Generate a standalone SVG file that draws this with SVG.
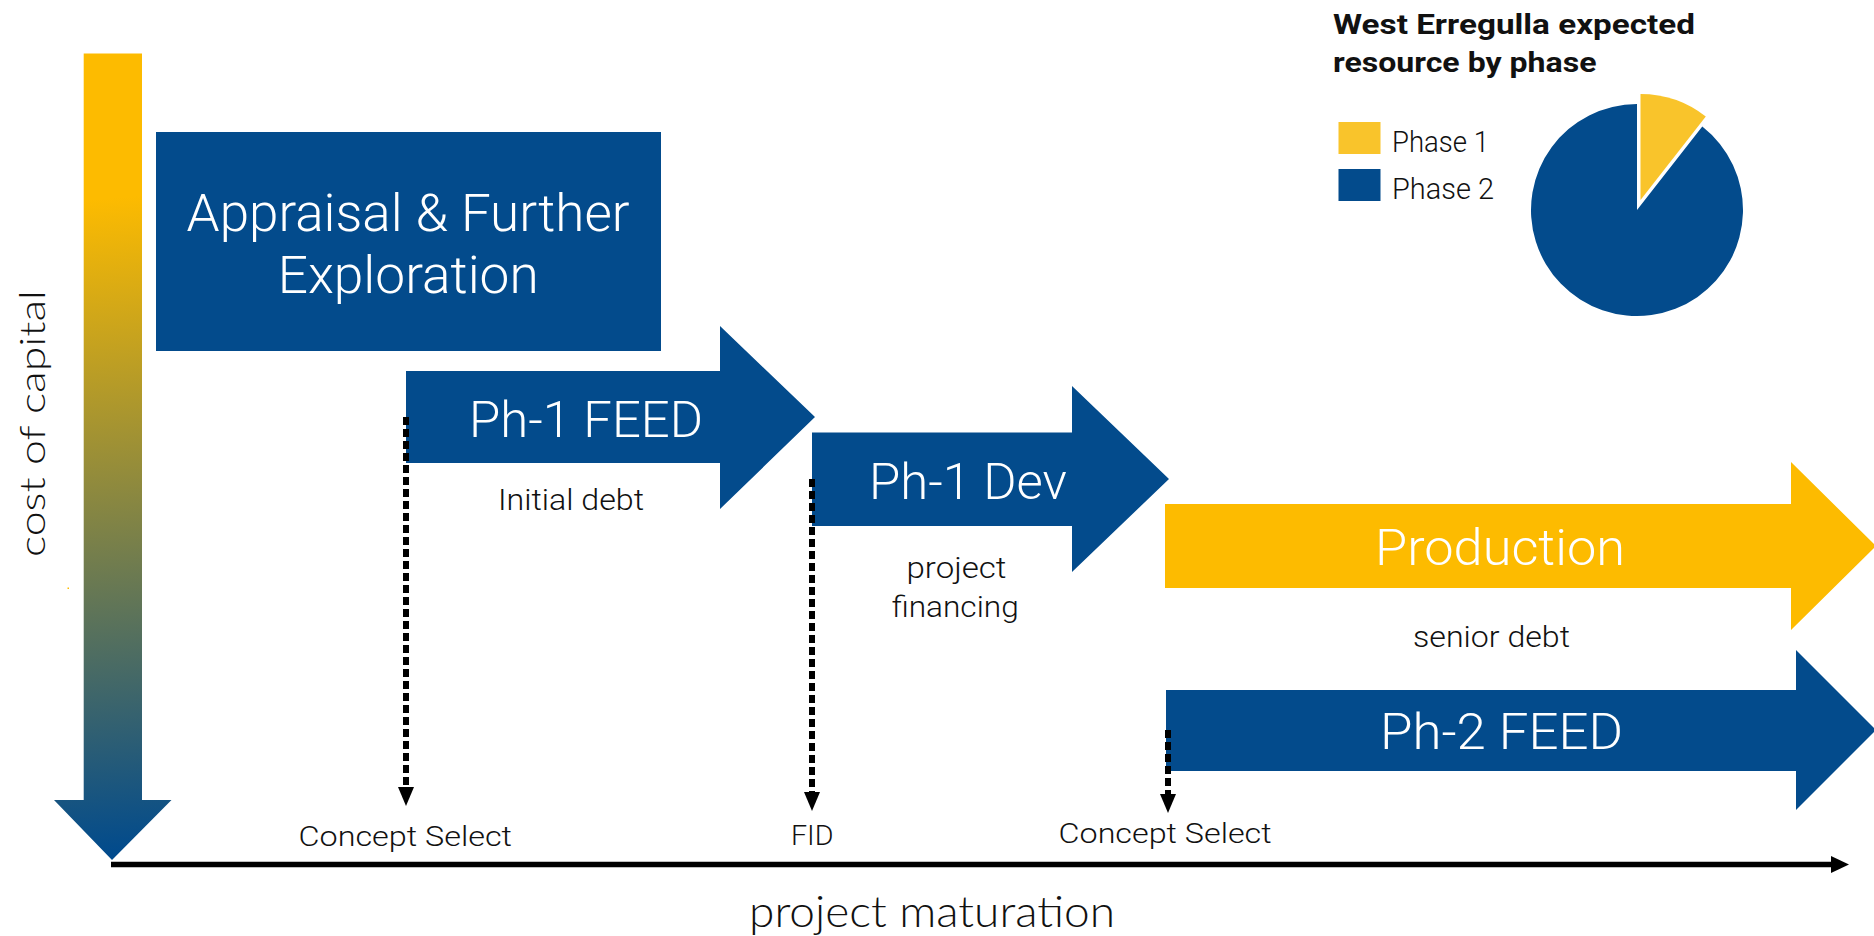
<svg xmlns="http://www.w3.org/2000/svg" width="1874" height="936" viewBox="0 0 1874 936">
  <style>
    .blue { fill: #034B8C; }
    .gold { fill: #FDBB00; }
    .pie-gold { fill: #F9C42B; }
    .t { font-family: Roboto, "Open Sans", "Liberation Sans", sans-serif; font-weight: 300; }
    .w { fill: #FFFFFF; }
    .k { fill: #111111; }
    .big { font-size: 50px; }
    .small { font-size: 29px; }
    .geo { font-family: Lato, "Open Sans", "Liberation Sans", sans-serif; font-weight: 300; fill: #111111; }
    .title { font-family: Roboto, "Liberation Sans", sans-serif; font-weight: 700; font-size: 28px; fill: #111111; }
    .dot { fill: none; stroke: #000000; stroke-width: 6; stroke-dasharray: 8 4; }
    .axis { fill: none; stroke: #000000; stroke-width: 5.5; }
  </style>
  <defs>
    <linearGradient id="costGrad" gradientUnits="userSpaceOnUse" x1="85" y1="200" x2="135" y2="855">
      <stop offset="0" stop-color="#FDBB00"/>
      <stop offset="1" stop-color="#004A8D"/>
    </linearGradient>
    <marker id="arrowSmall" viewBox="0 -8 19 16" refX="0" refY="0" markerWidth="19" markerHeight="16" markerUnits="userSpaceOnUse" orient="auto">
      <path d="M0,-8 L19,0 L0,8 Z" fill="#000000"/>
    </marker>
    <marker id="arrowAxis" viewBox="0 -8.5 18 17" refX="0" refY="0" markerWidth="18" markerHeight="17" markerUnits="userSpaceOnUse" orient="auto">
      <path d="M0,-8.5 L18,0 L0,8.5 Z" fill="#000000"/>
    </marker>
  </defs>

  <g id="cost-axis">
    <polygon points="83.7,53.5 142,53.5 142,800 171.5,800 112,860 54,800 83.7,800" fill="url(#costGrad)"/>
    <text class="geo" font-size="35" transform="translate(45,557) rotate(-90)" x="0" y="0" textLength="267" lengthAdjust="spacingAndGlyphs">cost of capital</text>
    <rect x="67.5" y="587.5" width="1.5" height="1.5" fill="#FDBB00"/>
  </g>

  <g id="appraisal">
    <rect class="blue" x="156" y="132" width="505" height="219"/>
    <text class="t w" font-size="51" x="186.6" y="231" textLength="443" lengthAdjust="spacingAndGlyphs">Appraisal &amp; Further</text>
    <text class="t w" font-size="51" x="277.7" y="293" textLength="261" lengthAdjust="spacingAndGlyphs">Exploration</text>
  </g>

  <g id="ph1-feed">
    <polygon class="blue" points="406,371 720,371 720,326 815,417 720,509 720,463 406,463"/>
    <text class="t w big" x="469" y="437" textLength="234" lengthAdjust="spacingAndGlyphs">Ph-1 FEED</text>
    <text class="t k small" x="498" y="510" textLength="146" lengthAdjust="spacingAndGlyphs">Initial debt</text>
  </g>

  <g id="ph1-dev">
    <polygon class="blue" points="812,432.5 1072,432.5 1072,386 1169,479 1072,572 1072,526 812,526"/>
    <text class="t w big" x="869" y="499" textLength="198" lengthAdjust="spacingAndGlyphs">Ph-1 Dev</text>
    <text class="t k small" x="906.5" y="578" textLength="100" lengthAdjust="spacingAndGlyphs">project</text>
    <text class="t k small" x="891.7" y="617" textLength="127" lengthAdjust="spacingAndGlyphs">financing</text>
  </g>

  <g id="production">
    <polygon class="gold" points="1165,504 1791,504 1791,462 1876,546 1791,630 1791,588 1165,588"/>
    <text class="t w big" x="1375" y="565" textLength="250" lengthAdjust="spacingAndGlyphs">Production</text>
    <text class="t k small" x="1413" y="647" textLength="157" lengthAdjust="spacingAndGlyphs">senior debt</text>
  </g>

  <g id="ph2-feed">
    <polygon class="blue" points="1166,690 1796,690 1796,650 1876,730 1796,810 1796,771 1166,771"/>
    <text class="t w big" x="1380" y="749" textLength="243" lengthAdjust="spacingAndGlyphs">Ph-2 FEED</text>
  </g>

  <g id="milestones">
    <text class="t k" font-size="28" x="298.5" y="845.5" textLength="213.5" lengthAdjust="spacingAndGlyphs">Concept Select</text>
    <text class="t k" font-size="28" x="791" y="845" textLength="42.5" lengthAdjust="spacingAndGlyphs">FID</text>
    <text class="t k" font-size="28" x="1058.6" y="843" textLength="213" lengthAdjust="spacingAndGlyphs">Concept Select</text>
  </g>

  <g id="maturation-axis">
    <text class="geo" font-size="44" x="749" y="927" textLength="366" lengthAdjust="spacingAndGlyphs">project maturation</text>
  </g>

  <g id="connectors">
    <line class="dot" x1="406" y1="417" x2="406" y2="787" marker-end="url(#arrowSmall)"/>
    <line class="dot" x1="812" y1="479" x2="812" y2="792" marker-end="url(#arrowSmall)"/>
    <line class="dot" x1="1168" y1="730" x2="1168" y2="794" marker-end="url(#arrowSmall)"/>
    <line class="axis" x1="111" y1="864.5" x2="1831" y2="864.5" marker-end="url(#arrowAxis)"/>
  </g>

  <g id="pie-chart">
    <text class="title" x="1333" y="33.7" textLength="362" lengthAdjust="spacingAndGlyphs">West Erregulla expected</text>
    <text class="title" x="1333" y="71.7" textLength="263.5" lengthAdjust="spacingAndGlyphs">resource by phase</text>
    <rect class="pie-gold" x="1338.5" y="122" width="42" height="32"/>
    <rect class="blue" x="1338.5" y="169" width="42" height="32"/>
    <text class="t k" font-size="30" x="1392" y="151.7" textLength="97" lengthAdjust="spacingAndGlyphs">Phase 1</text>
    <text class="t k" font-size="30" x="1392" y="199" textLength="102" lengthAdjust="spacingAndGlyphs">Phase 2</text>
    <path class="blue" d="M1637,210 L1702.3,126.5 A106,106 0 1 1 1637,104 Z"/>
    <path class="pie-gold" d="M1640.5,200 L1640.5,94 A106,106 0 0 1 1705.8,116.5 Z"/>
  </g>
</svg>
